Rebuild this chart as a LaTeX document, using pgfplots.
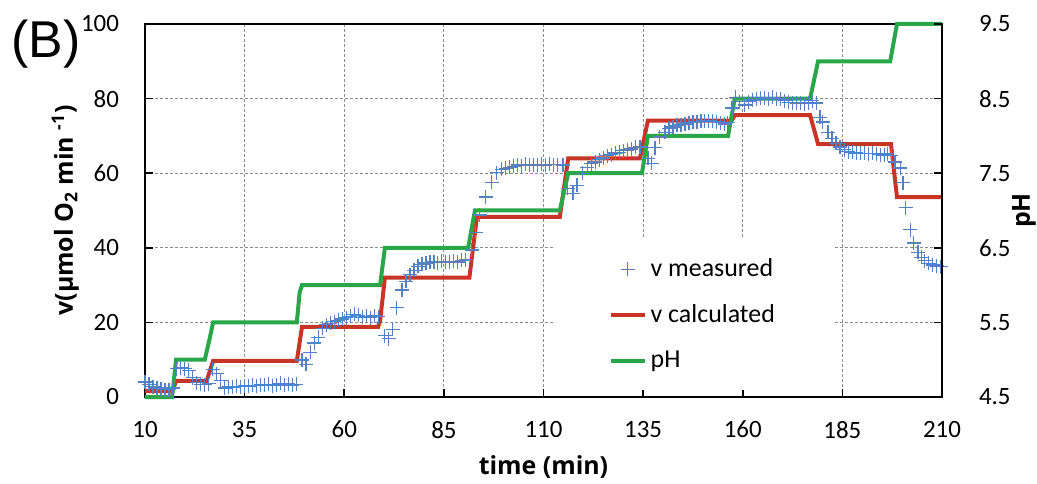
\documentclass[border=0pt]{standalone}
\usepackage{fontspec}
\setmainfont{Carlito}
\newfontfamily\labfont{Open Sans}
\newfontfamily\panelfont{Liberation Sans}
\usepackage{pgfplots}
\usepackage{pgfplotstable}
\pgfplotsset{compat=1.18}
\definecolor{vred}{RGB}{200,52,38}
\definecolor{phgreen}{RGB}{40,166,72}
\definecolor{mblue}{RGB}{84,128,196}

\pgfplotstableread{
x y
10 4.0
11 3.4
12 2.8
13 2.4
14 2.2
15 2.0
16 2.0
17 2.4
18 7.6
19 7.9
20 7.6
21 7.2
22 5.2
23 3.8
24 3.4
25 3.3
26 3.6
27 7.4
28 6.3
29 4.5
30 2.4
31 2.7
32 2.6
33 2.9
34 2.8
35 3.0
36 2.9
37 3.1
38 3.0
39 3.3
40 3.1
41 3.4
42 3.0
43 3.3
44 3.7
45 3.2
46 3.5
47 3.1
48 3.4
49.4 9.9
50.4 8.8
51.5 12.0
52.5 14.5
53.5 16.0
54.5 18.4
55.5 19.4
56.5 19.8
57.5 20.2
58.5 20.6
59.5 20.9
60.5 21.3
61.5 21.6
62.5 22.2
63.5 21.9
64.5 21.4
65.5 21.6
66.5 21.3
67.5 21.7
68.5 21.5
70.2 16.4
71.2 15.6
72.2 18.2
73.2 23.9
74.5 28.7
75.5 31.0
76.5 32.8
77.5 34.0
78.5 35.0
79.5 35.6
80.5 35.9
81.5 36.1
82.5 36.2
83.5 36.0
84.5 36.4
85.5 36.3
86.5 36.1
87.5 36.4
88.5 36.2
89.5 36.6
90.5 36.8
92 39.4
93 44.2
94 48.8
95.5 53.6
97 57.6
98.3 60.1
99.5 61.0
100.5 61.3
101.5 61.6
102.5 61.8
103.5 62.2
104.5 62.0
105.5 62.4
106.5 62.1
107.5 62.3
108.5 62.3
109.5 62.4
110.5 62.2
111.5 62.4
112.5 62.3
113.5 62.3
114.9 62.2
116.1 56.0
117.4 54.6
118.4 56.8
119.7 60.0
121 61.5
122 62.5
123 63.0
124 63.6
125 64.1
126 64.7
127 65.0
128 65.4
129 65.6
130 66.0
131 66.2
132 66.5
133 66.9
134.2 67.0
136.2 64.0
137.2 62.7
138 66.8
139.2 69.7
140.5 71.0
141.5 72.0
142.5 72.4
143.5 72.8
144.5 73.0
145.5 73.2
146.5 73.5
147.5 73.6
148.5 73.8
149.5 73.9
150.5 74.0
151.5 74.0
152.5 73.9
153.5 73.8
154.5 73.5
155.5 73.2
156.2 73.5
157.3 77.5
158.2 80.4
159.2 79.2
160.5 78.3
161.5 79.2
162.5 79.6
163.5 79.8
164.5 80.2
165.5 80.2
166.5 80.0
167.5 80.4
168.5 80.0
169.5 79.8
170.5 79.4
171.5 79.0
172.5 78.9
173.5 78.7
174.5 78.8
175.5 78.6
176.5 78.8
177.5 79.4
178.5 78.8
179.4 75.0
180.1 73.7
181.4 71.0
182.4 69.4
183.4 68.0
184.4 67.0
185.5 66.3
186.5 65.8
187.5 65.6
188.5 65.4
189.5 65.3
190.5 65.3
191.5 65.2
192.5 65.3
193.5 65.2
194.5 65.0
195.5 64.9
196.3 65.2
197.3 64.8
198.2 63.0
199.5 61.4
200.2 57.4
200.9 50.7
202 44.8
202.9 41.3
204 38.8
204.8 37.4
205.7 36.5
206.7 35.8
207.7 35.4
208.7 35.1
209.7 34.9
}\measured

\pgfplotstableread{
x y
10 1.6
16.9 1.6
17.8 4.3
25.5 4.3
26.5 7.8
27.1 9.7
48.1 9.7
49.4 18.8
68.5 18.8
69.0 20.5
70.2 32.0
91.4 32.0
93.3 48.3
114.1 48.3
116.2 64.0
134.2 64.0
136.2 74.1
157.2 74.1
158.0 75.6
176.9 75.6
178.9 67.8
197.2 67.8
198.7 53.6
210 53.6
}\calculated

\pgfplotstableread{
x pH
10 4.5
16.8 4.5
17.8 5.0
25.0 5.0
26.3 5.3
27.1 5.5
48.1 5.5
48.8 5.9
49.4 6.0
69.0 6.0
70.2 6.5
91.1 6.5
92.8 7.0
114.1 7.0
116.2 7.5
134.7 7.5
136.2 8.0
156.3 8.0
158.0 8.5
176.9 8.5
178.9 9.0
197.0 9.0
198.7 9.5
210 9.5
}\phdata

\begin{document}
\begin{tikzpicture}
\useasboundingbox (-72.5bp,-43.5bp) rectangle (446bp,198.5bp);
\begin{axis}[
  at={(0,0)}, anchor=south west,
  width=398.5bp, height=186.5bp, scale only axis,
  xmin=10, xmax=210, ymin=0, ymax=100,
  xtick={10,35,...,210}, ytick={0,20,...,100},
  xtick pos=bottom, ytick pos=left,
  tick align=inside, major tick length=4bp,
  axis line style={line width=1bp},
  tick style={line width=0.8bp,black},
  grid=major,
  grid style={gray!90,line width=0.5bp,dash pattern=on 1.5bp off 1bp},
  /pgf/number format/assume math mode=true,
  tick label style={font=\fontsize{12.5}{14}\selectfont},
  xticklabel shift=8.5bp, yticklabel shift=9.5bp,
  xlabel={time (min)},
  ylabel={v(\textmu mol O\textsubscript{2} min \textsuperscript{-1})},
  label style={font=\labfont\bfseries\fontsize{12.5}{14}\selectfont},
  xlabel style={at={(axis description cs:0.5,-0.188)},anchor=center},
  ylabel style={at={(axis description cs:-0.1,0.5)},anchor=center},
  clip=false,
  legend style={at={(axis description cs:0.511,0.425)},anchor=north west,
    draw=none,fill=white,inner xsep=28bp,inner ysep=8bp,
    font=\fontsize{13}{15}\selectfont,row sep=8.5bp},
  legend cell align=left,
]
\addplot[vred,line width=2bp,forget plot] table[x=x,y=y]{\calculated};
\addplot[phgreen,line width=2bp,forget plot] table[x=x,y expr={(\thisrow{pH}-4.5)*20}]{\phdata};
\addplot[mblue,only marks,mark=+,mark size=3.5bp,line width=0.6bp,forget plot] table[x=x,y=y]{\measured};
\addlegendimage{mblue,only marks,mark=+,mark size=3.5bp,line width=0.6bp}
\addlegendentry{v measured}
\addlegendimage{vred,line width=2bp}
\addlegendentry{v calculated}
\addlegendimage{phgreen,line width=2bp}
\addlegendentry{pH}
\end{axis}
\begin{axis}[
  at={(0,0)}, anchor=south west,
  width=398.5bp, height=186.5bp, scale only axis,
  xmin=10, xmax=210, ymin=4.5, ymax=9.5,
  axis x line=none, axis y line*=right,
  ytick={4.5,5.5,...,9.5},
  tick align=inside, major tick length=4bp,
  axis line style={line width=1bp,-},
  tick style={line width=0.8bp,black},
  tick label style={font=\fontsize{12.5}{14}\selectfont},
  yticklabel shift=15bp,
  /pgf/number format/.cd,fixed,fixed zerofill,precision=1,assume math mode=true,
  /pgfplots/.cd,
  ylabel={pH},
  ylabel style={font=\labfont\bfseries\fontsize{12.5}{14}\selectfont,
    at={(axis description cs:1.103,0.5)},anchor=center},
]
\addplot[draw=none] coordinates {(10,4.5)};
\end{axis}
\node[font=\panelfont\fontsize{26}{28}\selectfont] at (-49.5bp,176.5bp) {(B)};
\end{tikzpicture}
\end{document}
